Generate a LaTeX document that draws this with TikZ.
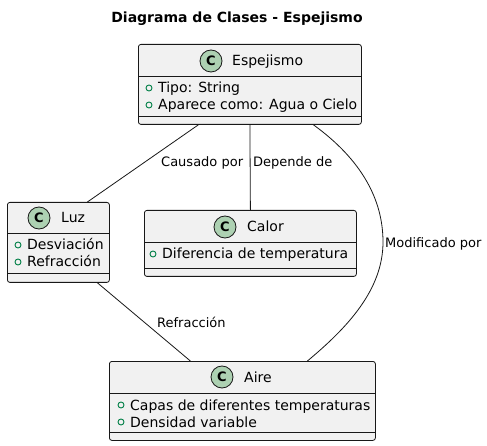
\documentclass[tikz,border=0pt]{standalone}
\usepackage{fontspec}
\setmainfont{DejaVu Sans}
\definecolor{umlborder}{HTML}{181818}
\definecolor{umlfill}{HTML}{F1F1F1}
\definecolor{spotfill}{HTML}{ADD1B2}
\definecolor{visgreen}{HTML}{038048}
\begin{document}
\begin{tikzpicture}[x=1pt,y=-1pt,
  classbox/.style={draw=umlborder, fill=umlfill, line width=0.8pt, rounded corners=2.5pt,
    inner sep=0pt, anchor=north west},
  divider/.style={draw=umlborder, line width=0.8pt},
  spot/.style={circle, draw=umlborder, line width=0.8pt, fill=spotfill, minimum size=22pt,
    inner sep=0pt, font=\bfseries\fontsize{13}{13}\selectfont},
  cname/.style={anchor=base west, inner sep=0pt, font=\fontsize{14}{16}\selectfont},
  attr/.style={anchor=base west, inner sep=0pt, font=\fontsize{14}{16}\selectfont},
  vis/.style={circle, draw=visgreen, line width=0.9pt, minimum size=6pt, inner sep=0pt},
  link/.style={draw=umlborder, line width=0.8pt},
  lbl/.style={anchor=base west, inner sep=0pt, font=\fontsize{13}{15}\selectfont},
  titletext/.style={anchor=base, inner sep=0pt, font=\bfseries\fontsize{14}{16}\selectfont}]

  \useasboundingbox[fill=white] (0,0) rectangle (487,446);

  \node[titletext] (title) at (237,23) {Diagrama de Clases - Espejismo};

  % Espejismo
  \node[classbox, minimum width=223pt, minimum height=80pt] (esp) at (138,44) {};
  \draw[divider] (esp.west |- 0,76) -- (esp.east |- 0,76);
  \draw[divider] (esp.west |- 0,116) -- (esp.east |- 0,116);
  \node[spot] (esp-spot) at (211,61) {C};
  \node[cname] (esp-name) at (232,66) {Espejismo};
  \node[vis] (esp-v1) at (149,88) {};
  \node[attr] (esp-a1) at (158,93) {Tipo: String};
  \node[vis] (esp-v2) at (149,105) {};
  \node[attr] (esp-a2) at (158,110) {Aparece como: Agua o Cielo};

  % Luz
  \node[classbox, minimum width=102pt, minimum height=80pt] (luz) at (7,202) {};
  \draw[divider] (luz.west |- 0,233) -- (luz.east |- 0,233);
  \draw[divider] (luz.west |- 0,273) -- (luz.east |- 0,273);
  \node[spot] (luz-spot) at (39,218) {C};
  \node[cname] (luz-name) at (61,223) {Luz};
  \node[vis] (luz-v1) at (18,245) {};
  \node[attr] (luz-a1) at (27,250) {Desviación};
  \node[vis] (luz-v2) at (18,262) {};
  \node[attr] (luz-a2) at (27,267) {Refracción};

  % Calor
  \node[classbox, minimum width=212pt, minimum height=66pt] (calor) at (144,210) {};
  \draw[divider] (calor.west |- 0,242) -- (calor.east |- 0,242);
  \draw[divider] (calor.west |- 0,268) -- (calor.east |- 0,268);
  \node[spot] (calor-spot) at (225,227) {C};
  \node[cname] (calor-name) at (247,232) {Calor};
  \node[vis] (calor-v1) at (153,254) {};
  \node[attr] (calor-a1) at (162,259) {Diferencia de temperatura};

  % Aire
  \node[classbox, minimum width=266pt, minimum height=79pt] (aire) at (109,361) {};
  \draw[divider] (aire.west |- 0,393) -- (aire.east |- 0,393);
  \draw[divider] (aire.west |- 0,432) -- (aire.east |- 0,432);
  \node[spot] (aire-spot) at (222,377) {C};
  \node[cname] (aire-name) at (244,382) {Aire};
  \node[vis] (aire-v1) at (121,405) {};
  \node[attr] (aire-a1) at (130,410) {Capas de diferentes temperaturas};
  \node[vis] (aire-v2) at (121,422) {};
  \node[attr] (aire-a2) at (130,427) {Densidad variable};

  % Associations
  \draw[link] ([xshift=-51.5pt]esp.south) -- ([xshift=29pt]luz.north);
  \draw[link] (esp.south) -- (calor.north);
  \draw[link] ([xshift=63.5pt]esp.south) .. controls (362,160) and (383,200) .. (383,242)
    .. controls (383,290) and (347,328) .. ([xshift=65pt]aire.north);
  \draw[link] ([xshift=39pt]luz.south) -- ([xshift=-52pt]aire.north);

  % Association labels
  \node[lbl] (lbl-causa) at (161,167) {Causado por};
  \node[lbl] (lbl-depende) at (253,167) {Depende de};
  \node[lbl] (lbl-modif) at (385,248) {Modificado por};
  \node[lbl] (lbl-refr) at (157,327) {Refracción};
\end{tikzpicture}
\end{document}
